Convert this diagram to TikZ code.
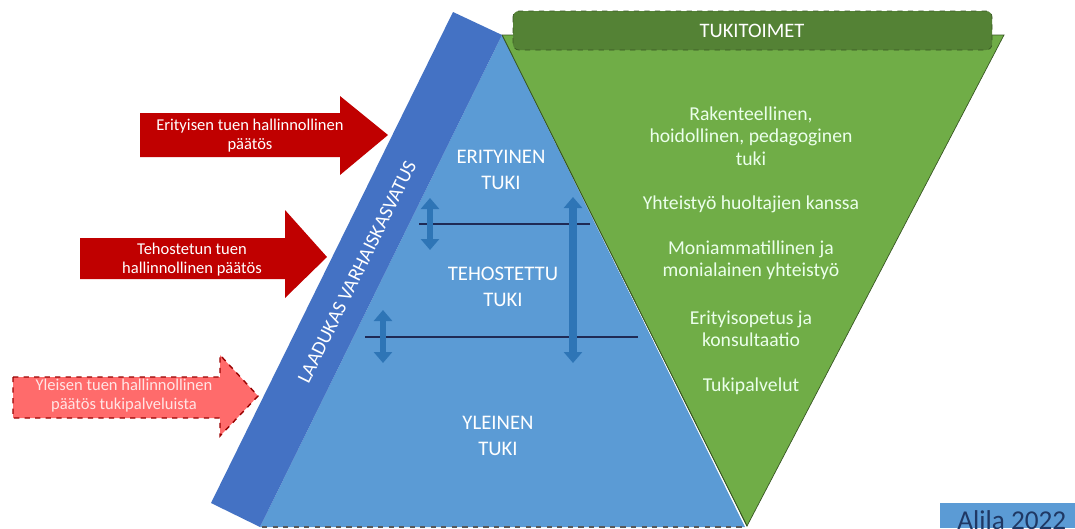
\documentclass[tikz,border=0pt]{standalone}
\usepackage{xcolor}
\usepackage{fontspec}
\setmainfont{Carlito}
\usepackage{tikz}
\usetikzlibrary{arrows.meta}
\tikzset{>=stealth}

\definecolor{pyrblue}{HTML}{5B9BD5}
\definecolor{bandblue}{HTML}{4472C4}
\definecolor{arrblue}{HTML}{2E75B6}
\definecolor{lvlline}{HTML}{1F2A55}
\definecolor{tgreen}{HTML}{70AD47}
\definecolor{hgreen}{HTML}{548235}
\definecolor{dgreen}{HTML}{385723}
\definecolor{dred}{HTML}{C00000}
\definecolor{lred}{HTML}{FF6B6B}
\definecolor{navytext}{HTML}{1F3864}

\tikzset{
  pyrtext/.style={text=white, align=center, font=\fontsize{11.8}{14.8}\selectfont},
  tukitext/.style={text=white!92!green, align=center, font=\fontsize{11.2}{12.8}\selectfont},
  redtext/.style={text=white, align=center, font=\fontsize{9.4}{10.8}\selectfont},
  updown/.style={arrblue, line width=0.13cm, {Triangle[width=0.36cm,length=0.22cm]}-{Triangle[width=0.36cm,length=0.22cm]}}
}

\begin{document}
\begin{tikzpicture}[x=0.02cm,y=-0.02cm]
    \clip (0,0) rectangle (1075,528);
    \fill[white] (0,0) rectangle (1075,528);

    % tukitoimet
    \draw[fill=tgreen, draw=dgreen, thin] (502,35)--(1004,35)--(747,526)--cycle;
    \draw[fill=hgreen, draw=dgreen, dashed, rounded corners=0.12cm] (513,11) rectangle (992,50);
    \node[text=white, font=\fontsize{11.7}{14}\selectfont] (tukitoimet) at (752,31) {TUKITOIMET};

    % pyramid
    \fill[pyrblue] (502,35)--(745,527)--(260,527)--cycle;
    \draw[dgreen, thin] (502,35)--(747,526);
    \draw[gray!70!black, dashed, thick] (262,527)--(745,527);
    \fill[bandblue] (260,527)--(502,35)--(453,12)--(211,503)--cycle;
    \node[rotate=63.8, text=white, font=\fontsize{11.3}{13}\selectfont] (laadukas) at (357,272) {LAADUKAS VARHAISKASVATUS};

    \draw[lvlline, line width=0.04cm] (419,224)--(590,224);
    \draw[lvlline, line width=0.04cm] (365,337)--(638,337);
    \coordinate (a1) at (430,198); \coordinate (a2) at (430,250);
    \coordinate (b1) at (383,310); \coordinate (b2) at (383,363);
    \coordinate (c1) at (573,197); \coordinate (c2) at (573,363);
    \draw[updown] (a1)--(a2);
    \draw[updown] (b1)--(b2);
    \draw[updown, line width=0.16cm] (c1)--(c2);

    \node[pyrtext] (erityinen) at (501,170) {ERITYINEN\\TUKI};
    \node[pyrtext] (tehostettu) at (503,287) {TEHOSTETTU\\TUKI};
    \node[pyrtext] (yleinen) at (498,436) {YLEINEN\\TUKI};

    % tukitoimet list
    \node[tukitext] (rak) at (751,136) {Rakenteellinen,\\hoidollinen, pedagoginen\\tuki};
    \node[tukitext] (yht) at (751,204) {Yhteistyö huoltajien kanssa};
    \node[tukitext] (moni) at (751,260) {Moniammatillinen ja\\monialainen yhteistyö};
    \node[tukitext] (eop) at (751,329) {Erityisopetus ja\\konsultaatio};
    \node[tukitext] (tpal) at (751,386) {Tukipalvelut};

    % decisions
    \draw[fill=dred, draw=none] (140,113)--(340,113)--(340,96)--(388,135)--(340,175)--(340,157)--(140,157)--cycle;
    \node[redtext] (erpaatos) at (250,136) {Erityisen tuen hallinnollinen\\päätös};
    \draw[fill=dred, draw=none] (80,238)--(285,238)--(285,210)--(327,257)--(285,298)--(285,279)--(80,279)--cycle;
    \node[redtext] (tehpaatos) at (192,260) {Tehostetun tuen\\hallinnollinen päätös};
    \draw[fill=lred, draw=dred!80!black, dashed, thick] (13,377)--(220,377)--(220,355)--(258,396)--(220,436)--(220,418)--(13,418)--cycle;
    \node[redtext, text=white!90!red] (ylpaatos) at (124,396) {Yleisen tuen hallinnollinen\\päätös tukipalveluista};

    % source
    \fill[pyrblue] (940,503) rectangle (1075,528);
    \node[text=navytext, font=\fontsize{15.5}{17}\selectfont, anchor=base west, inner sep=0pt] (alila) at (957,529) {Alila 2022};
\end{tikzpicture}
\end{document}
